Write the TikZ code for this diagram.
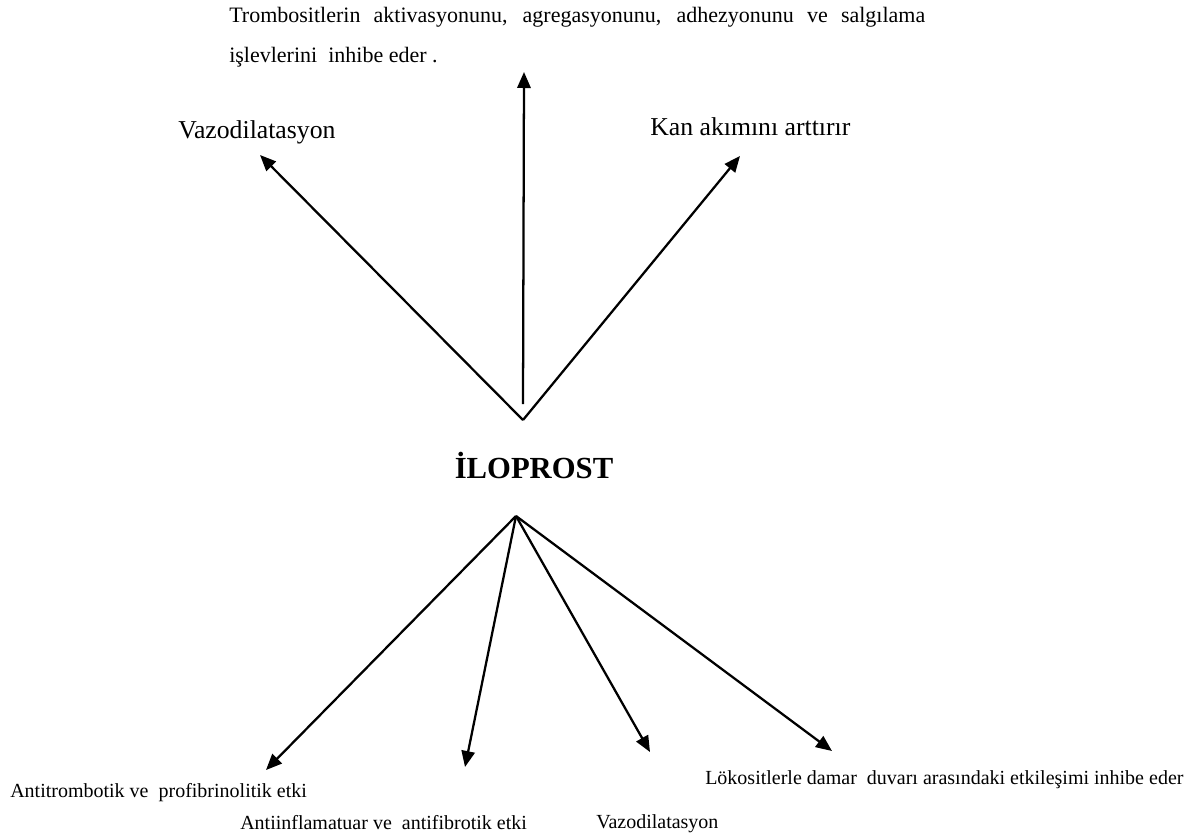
\documentclass[tikz,border=0pt]{standalone}
\usepackage{fontspec}
\setmainfont{Liberation Serif}
\usetikzlibrary{arrows.meta}

\begin{document}
\begin{tikzpicture}[x=0.75pt, y=-0.75pt,
    effect/.style={font=\fontsize{19.3}{23}\selectfont, inner sep=0pt, anchor=base west},
    smalleffect/.style={font=\fontsize{15}{18}\selectfont, inner sep=0pt, anchor=base west},
    arrow/.style={-{Triangle[length=12pt, width=10pt]}, line width=1.7pt}]
        \useasboundingbox (0,0) rectangle (1198,836);

        % Nodes
        \node[font=\fontsize{23}{27}\selectfont\bfseries] (ilo) at (534,465) {İLOPROST};
        \node[anchor=north west, inner sep=0pt, text width=522pt, align=justify,
              font=\fontsize{16.5}{30}\selectfont] (tromb) at (229,7)
              {Trombositlerin aktivasyonunu, agregasyonunu, adhezyonunu ve salgılama\linebreak
               işlevlerini\ \ inhibe eder .};
        \node[effect] (vazotop) at (178,138) {Vazodilatasyon};
        \node[effect] (kan) at (650,135) {Kan akımını arttırır};
        \node[smalleffect] (antitromb) at (10,797) {Antitrombotik ve\ \ profibrinolitik etki};
        \node[smalleffect] (antiinf) at (240,829) {Antiinflamatuar ve\ \ antifibrotik etki};
        \node[smalleffect] (vazobot) at (596,828) {Vazodilatasyon};
        \node[smalleffect] (lok) at (705,784) {Lökositlerle damar\ \ duvarı arasındaki etkileşimi inhibe eder};

        % Coordinates
        \coordinate (apextop) at (523,420);
        \coordinate (stemtop) at (523,404);
        \coordinate (apexbot) at (516,516);
        \coordinate (tipvazotop) at (260,155);
        \coordinate (tiptromb) at (524,72);
        \coordinate (tipkan) at (740,156);
        \coordinate (tipantitromb) at (266,770);
        \coordinate (tipantiinf) at (465,767);
        \coordinate (tipvazobot) at (650,752);
        \coordinate (tiplok) at (832,751);

        % Arrows
        \draw[arrow] (apextop) -- (tipvazotop);
        \draw[arrow] (stemtop) -- (tiptromb);
        \draw[arrow] (apextop) -- (tipkan);
        \draw[arrow] (apexbot) -- (tipantitromb);
        \draw[arrow] (apexbot) -- (tipantiinf);
        \draw[arrow] (apexbot) -- (tipvazobot);
        \draw[arrow] (apexbot) -- (tiplok);
    \end{tikzpicture}
\end{document}
